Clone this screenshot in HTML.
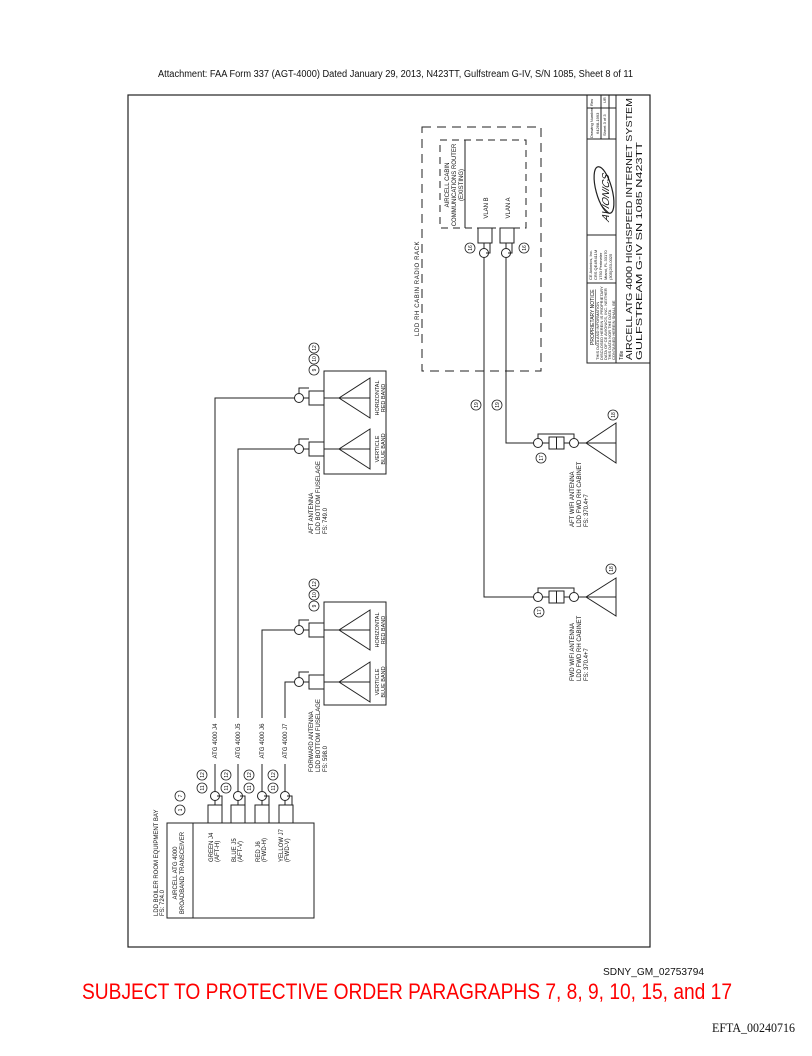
<!DOCTYPE html>
<html><head><meta charset="utf-8"><style>
html,body{margin:0;padding:0;background:#fff;}
svg{display:block;}
text{font-family:"Liberation Sans",sans-serif;fill:#111;}
</style></head><body>
<svg width="812" height="1056" viewBox="0 0 812 1056" xmlns="http://www.w3.org/2000/svg">
<text x="158" y="77" font-size="10" textLength="475" lengthAdjust="spacingAndGlyphs">Attachment: FAA Form 337 (AGT-4000) Dated January 29, 2013, N423TT, Gulfstream G-IV, S/N 1085, Sheet 8 of 11</text>

<g fill="none" stroke="#222" stroke-width="1">
<rect x="128" y="95" width="522" height="852" stroke-width="1.2"/>
<!-- title block -->
<rect x="587" y="95" width="63" height="268"/>
<line x1="616" y1="95" x2="616" y2="363"/>
<line x1="587" y1="139" x2="616" y2="139"/>
<line x1="587" y1="235" x2="616" y2="235"/>
<line x1="587" y1="283" x2="616" y2="283"/>
<line x1="601" y1="95" x2="601" y2="139"/>
<line x1="587" y1="108" x2="616" y2="108"/>
<line x1="609" y1="95" x2="609" y2="139"/>

<!-- rack dashed -->
<rect x="422" y="127" width="119" height="244" stroke-dasharray="9,6"/>
<rect x="440" y="140" width="86" height="88" stroke-dasharray="7,5"/>
<line x1="465" y1="140" x2="465" y2="228"/>
<!-- router connectors -->
<rect x="478" y="228" width="14" height="15"/>
<rect x="500" y="228" width="14" height="15"/>
<circle cx="484" cy="253" r="4.5"/><circle cx="506" cy="253" r="4.5"/>
<path d="M484 243V248.5M506 243V248.5M486 253H490V243M508 253H512V243"/>
<!-- wires to wifi -->
<path d="M484 257.5V597H534"/>
<path d="M506 257.5V443H534"/>

<!-- wifi antennas -->
<g id="wa">
<circle cx="538" cy="443" r="4.5"/>
<rect x="549" y="437" width="7.5" height="12"/><rect x="556.5" y="437" width="7.5" height="12"/>
<circle cx="574" cy="443" r="4.5"/>
<path d="M542.5 443H549M564 443H569.5M578.5 443H616M538 438.5V434H574V438.5"/>
<path d="M616 423L586 443L616 463Z"/>
</g>
<g transform="translate(0,154)">
<circle cx="538" cy="443" r="4.5"/>
<rect x="549" y="437" width="7.5" height="12"/><rect x="556.5" y="437" width="7.5" height="12"/>
<circle cx="574" cy="443" r="4.5"/>
<path d="M542.5 443H549M564 443H569.5M578.5 443H616M538 438.5V434H574V438.5"/>
<path d="M616 424L586 443L616 462Z"/>
</g>

<!-- aft antenna -->
<rect x="324" y="371" width="62" height="103"/>
<rect x="309" y="391" width="15" height="14"/><rect x="309" y="442" width="15" height="14"/>
<circle cx="299" cy="398" r="4.5"/><circle cx="299" cy="449" r="4.5"/>
<path d="M303.5 398H309M303.5 449H309M299 393.5V388H309M299 444.5V439H309"/>
<path d="M324 398H370M324 449H370"/>
<path d="M370 378L339 398L370 418ZM370 429L339 449L370 469Z"/>
<!-- forward antenna -->
<rect x="324" y="602" width="62" height="103"/>
<rect x="309" y="623" width="15" height="14"/><rect x="309" y="675" width="15" height="14"/>
<circle cx="299" cy="630" r="4.5"/><circle cx="299" cy="682" r="4.5"/>
<path d="M303.5 630H309M303.5 682H309M299 625.5V620H309M299 677.5V672H309"/>
<path d="M324 630H370M324 682H370"/>
<path d="M370 610L339 630L370 650ZM370 662L339 682L370 702Z"/>

<!-- transceiver -->
<rect x="167" y="823" width="147" height="95"/>
<line x1="193" y1="823" x2="193" y2="918"/>
<rect x="208" y="805" width="14" height="18"/><rect x="231" y="805" width="14" height="18"/>
<rect x="255" y="805" width="14" height="18"/><rect x="279" y="805" width="14" height="18"/>
<circle cx="215" cy="796" r="4.5"/><circle cx="238" cy="796" r="4.5"/>
<circle cx="262" cy="796" r="4.5"/><circle cx="285" cy="796" r="4.5"/>
<path d="M215 800.5V805M238 800.5V805M262 800.5V805M285 800.5V805"/>
<path d="M217 796H222V805M240 796H245V805M264 796H269V805M287 796H292V805"/>
<!-- wires -->
<path d="M215 791.5V764M215 718V398H294.5"/>
<path d="M238 791.5V764M238 718V449H294.5"/>
<path d="M262 791.5V764M262 718V630H294.5"/>
<path d="M285 791.5V764M285 718V682H294.5"/>
</g>

<!-- circled numbers -->
<g fill="none" stroke="#222" stroke-width="0.8">
<circle cx="314" cy="370" r="5"/><circle cx="314" cy="359" r="5"/><circle cx="314" cy="348" r="5"/>
<circle cx="314" cy="606" r="5"/><circle cx="314" cy="595" r="5"/><circle cx="314" cy="584" r="5"/>
<circle cx="202" cy="788" r="5"/><circle cx="202" cy="775" r="5"/>
<circle cx="226" cy="788" r="5"/><circle cx="226" cy="775" r="5"/>
<circle cx="249" cy="788" r="5"/><circle cx="249" cy="775" r="5"/>
<circle cx="273" cy="788" r="5"/><circle cx="273" cy="775" r="5"/>
<circle cx="180" cy="810" r="5"/><circle cx="180" cy="796" r="5"/>
<circle cx="470" cy="248" r="5"/><circle cx="524" cy="248" r="5"/>
<circle cx="476" cy="405" r="5"/><circle cx="497" cy="405" r="5"/>
<circle cx="541" cy="458" r="5"/><circle cx="613" cy="415" r="5"/>
<circle cx="539" cy="612" r="5"/><circle cx="611" cy="569" r="5"/>
</g>
<g font-size="5" text-anchor="middle">
<text transform="translate(316,370) rotate(-90)">9</text><text transform="translate(316,359) rotate(-90)">10</text><text transform="translate(316,348) rotate(-90)">12</text>
<text transform="translate(316,606) rotate(-90)">9</text><text transform="translate(316,595) rotate(-90)">10</text><text transform="translate(316,584) rotate(-90)">12</text>
<text transform="translate(204,788) rotate(-90)">11</text><text transform="translate(204,775) rotate(-90)">12</text>
<text transform="translate(228,788) rotate(-90)">11</text><text transform="translate(228,775) rotate(-90)">12</text>
<text transform="translate(251,788) rotate(-90)">11</text><text transform="translate(251,775) rotate(-90)">12</text>
<text transform="translate(275,788) rotate(-90)">11</text><text transform="translate(275,775) rotate(-90)">12</text>
<text transform="translate(182,810) rotate(-90)">1</text><text transform="translate(182,796) rotate(-90)">7</text>
<text transform="translate(472,248) rotate(-90)">16</text><text transform="translate(526,248) rotate(-90)">16</text>
<text transform="translate(478,405) rotate(-90)">19</text><text transform="translate(499,405) rotate(-90)">19</text>
<text transform="translate(543,458) rotate(-90)">17</text><text transform="translate(615,415) rotate(-90)">18</text>
<text transform="translate(541,612) rotate(-90)">17</text><text transform="translate(613,569) rotate(-90)">18</text>
</g>

<!-- rotated labels -->
<g font-size="6">
<text transform="translate(419,336) rotate(-90)" letter-spacing="0.6">LDD RH CABIN RADIO RACK</text>
<g text-anchor="middle">
<text transform="translate(449,185) rotate(-90)">AIRCELL CABIN</text>
<text transform="translate(456,185) rotate(-90)">COMMUNICATIONS ROUTER</text>
<text transform="translate(463,185) rotate(-90)">(EXISTING)</text>
<text transform="translate(488,208) rotate(-90)">VLAN B</text>
<text transform="translate(510,208) rotate(-90)">VLAN A</text>
<text transform="translate(379,398) rotate(-90)" font-size="5.5">HORIZONTAL</text>
<text transform="translate(385,398) rotate(-90)" font-size="5.5" text-decoration="underline">RED BAND</text>
<text transform="translate(379,449) rotate(-90)" font-size="5.5">VERTICLE</text>
<text transform="translate(385,449) rotate(-90)" font-size="5.5" text-decoration="underline">BLUE BAND</text>
<text transform="translate(379,630) rotate(-90)" font-size="5.5">HORIZONTAL</text>
<text transform="translate(385,630) rotate(-90)" font-size="5.5" text-decoration="underline">RED BAND</text>
<text transform="translate(379,682) rotate(-90)" font-size="5.5">VERTICLE</text>
<text transform="translate(385,682) rotate(-90)" font-size="5.5" text-decoration="underline">BLUE BAND</text>
<text transform="translate(217,741) rotate(-90)">ATG 4000 J4</text>
<text transform="translate(240,741) rotate(-90)">ATG 4000 J5</text>
<text transform="translate(264,741) rotate(-90)">ATG 4000 J6</text>
<text transform="translate(287,741) rotate(-90)">ATG 4000 J7</text>
<text transform="translate(177,873) rotate(-90)">AIRCELL ATG 4000</text>
<text transform="translate(184,873) rotate(-90)">BROADBAND TRANSCEIVER</text>
</g>
<text transform="translate(213,862) rotate(-90)">GREEN J4</text><text transform="translate(219,862) rotate(-90)">(AFT-H)</text>
<text transform="translate(236,862) rotate(-90)">BLUE J5</text><text transform="translate(242,862) rotate(-90)">(AFT-V)</text>
<text transform="translate(260,862) rotate(-90)">RED J6</text><text transform="translate(266,862) rotate(-90)">(FWD-H)</text>
<text transform="translate(283,862) rotate(-90)">YELLOW J7</text><text transform="translate(289,862) rotate(-90)">(FWD-V)</text>
<text transform="translate(158,916) rotate(-90)">LDD BOILER ROOM EQUIPMENT BAY</text>
<text transform="translate(164,916) rotate(-90)">FS: 724.0</text>
<text transform="translate(313,772) rotate(-90)">FORWARD ANTENNA</text>
<text transform="translate(320,772) rotate(-90)">LDD BOTTOM FUSELAGE</text>
<text transform="translate(327,772) rotate(-90)">FS: 598.0</text>
<text transform="translate(313,534) rotate(-90)">AFT ANTENNA</text>
<text transform="translate(320,534) rotate(-90)">LDD BOTTOM FUSELAGE</text>
<text transform="translate(327,534) rotate(-90)">FS: 749.0</text>
<text transform="translate(574,681) rotate(-90)">FWD WIFI ANTENNA</text>
<text transform="translate(581,681) rotate(-90)">LDD FWD RH CABINET</text>
<text transform="translate(588,681) rotate(-90)">FS: 370.4+7</text>
<text transform="translate(574,527) rotate(-90)">AFT WIFI ANTENNA</text>
<text transform="translate(581,527) rotate(-90)">LDD FWD RH CABINET</text>
<text transform="translate(588,527) rotate(-90)">FS: 370.4+7</text>
</g>

<!-- title block text -->
<g font-size="4">
<text transform="translate(593,138) rotate(-90)">Drawing Number</text>
<text transform="translate(599,134) rotate(-90)">64268-1993</text>
<text transform="translate(606,136) rotate(-90)">Sheet 3 of 3</text>
<text transform="translate(593,106) rotate(-90)">Rev</text>
<text transform="translate(606,103) rotate(-90)">UR</text>
<text transform="translate(592,280) rotate(-90)">CE Avionics, Inc.</text>
<text transform="translate(597,280) rotate(-90)">CRS QE4R411M</text>
<text transform="translate(602,280) rotate(-90)">1750 Perimeter</text>
<text transform="translate(607,280) rotate(-90)">Miami, FL 33170</text>
<text transform="translate(612,280) rotate(-90)">(305)253-0025</text>
<text transform="translate(594,345) rotate(-90)" font-size="5" text-decoration="underline">PROPRIETARY NOTICE</text>
<text transform="translate(599,360) rotate(-90)">THIS DATA AND INFORMATION</text>
<text transform="translate(603,360) rotate(-90)">DISCLOSED HEREIN IS PROPRIETARY</text>
<text transform="translate(607,360) rotate(-90)">DATA OF CE AVIONICS, INC. NEITHER</text>
<text transform="translate(611,360) rotate(-90)">THIS DATA NOR THE DATA</text>
<text transform="translate(615,360) rotate(-90)">CONTAINED HEREIN SHALL BE</text>
<text transform="translate(623,360) rotate(-90)" font-size="5">Title</text>
</g>
<text transform="translate(632,360) rotate(-90)" font-size="8.3" textLength="262" lengthAdjust="spacingAndGlyphs">AIRCELL ATG 4000  HIGHSPEED INTERNET SYSTEM</text>
<text transform="translate(642,360) rotate(-90)" font-size="8.3" textLength="218" lengthAdjust="spacingAndGlyphs">GULFSTREAM G-IV  SN 1085  N423TT</text>
<!-- logo -->
<g fill="none" stroke="#222" stroke-width="1.2">
<ellipse cx="604" cy="190" rx="8" ry="24" transform="rotate(-15 604 190)"/>
</g>
<text transform="translate(609,222) rotate(-90) skewX(-20)" font-size="10" font-style="italic">AVIONICS</text>

<!-- footer -->
<text x="603" y="975" font-size="10" textLength="101" lengthAdjust="spacingAndGlyphs">SDNY_GM_02753794</text>
<text x="82" y="999" font-size="22" style="fill:#f00" textLength="650" lengthAdjust="spacingAndGlyphs">SUBJECT TO PROTECTIVE ORDER PARAGRAPHS 7, 8, 9, 10, 15, and 17</text>
<text x="712" y="1032" font-size="12.5" style="font-family:'Liberation Serif',serif" textLength="83" lengthAdjust="spacingAndGlyphs">EFTA_00240716</text>
</svg>
</body></html>
